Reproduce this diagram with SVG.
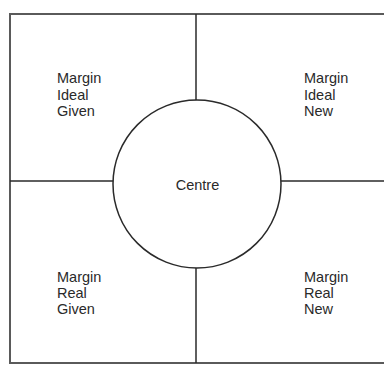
<svg xmlns="http://www.w3.org/2000/svg" width="384" height="365" viewBox="0 0 384 365">
<style>
.frame{fill:none;stroke:#5a5a5a;stroke-width:2}
.ln{fill:none;stroke:#2a2a2a;stroke-width:1.5}
.t{font-family:"Liberation Sans",Arial,sans-serif;font-size:14.5px;fill:#2a2a2a}
</style>
<rect width="384" height="365" fill="#ffffff"/>
<g id="frame">
<path class="frame" d="M384,14 H10 V363 H384"/>
</g>
<g id="connectors">
<line class="ln" x1="196" y1="14" x2="196" y2="100"/>
<line class="ln" x1="196" y1="268" x2="196" y2="363"/>
<line class="ln" x1="10" y1="181" x2="113" y2="181"/>
<line class="ln" x1="281" y1="181" x2="384" y2="181"/>
</g>
<g id="centre">
<circle class="ln" cx="197" cy="184" r="84" fill="#ffffff"/>
<text class="t" x="197.5" y="190" text-anchor="middle">Centre</text>
</g>
<g id="ideal-given">
<text class="t" x="57" y="83">Margin</text>
<text class="t" x="57" y="100">Ideal</text>
<text class="t" x="57" y="116">Given</text>
</g>
<g id="ideal-new">
<text class="t" x="304" y="83">Margin</text>
<text class="t" x="304" y="100">Ideal</text>
<text class="t" x="304" y="116">New</text>
</g>
<g id="real-given">
<text class="t" x="57" y="282">Margin</text>
<text class="t" x="57" y="298">Real</text>
<text class="t" x="57" y="314">Given</text>
</g>
<g id="real-new">
<text class="t" x="304" y="282">Margin</text>
<text class="t" x="304" y="298">Real</text>
<text class="t" x="304" y="314">New</text>
</g>
</svg>
